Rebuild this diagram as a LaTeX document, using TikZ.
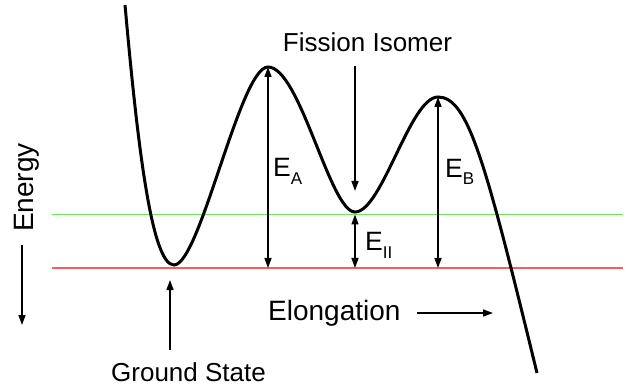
\documentclass[tikz,border=0pt]{standalone}
\usepackage{fontspec}
\setmainfont{Liberation Sans}
\usetikzlibrary{arrows.meta}
\definecolor{lgreen}{RGB}{110,230,90}
\definecolor{lred}{RGB}{245,95,95}
\begin{document}
\begin{tikzpicture}[x=1pt,y=-1pt,
  arr/.style={line width=1.5pt,-{Triangle[length=10pt,width=7pt]}},
  darr/.style={line width=1.5pt,{Triangle[length=10pt,width=7pt]}-{Triangle[length=10pt,width=7pt]}},
  curve/.style={line width=3pt},
  big/.style={font=\fontsize{28}{28}\selectfont, inner sep=0pt},
  mid/.style={font=\fontsize{26}{26}\selectfont, inner sep=0pt},
  lab/.style={font=\fontsize{26.5}{26.5}\selectfont, inner sep=0pt},
  level/.style={line width=1.5pt}]
\useasboundingbox (0,0) rectangle (632,390);
% energy levels
\coordinate (gL) at (52,214.5);
\coordinate (gR) at (623,214.5);
\coordinate (rL) at (52,268);
\coordinate (rR) at (623,268);
\draw[level,lgreen] (gL) -- (gR);
\draw[level,lred] (rL) -- (rR);
% curve
\coordinate (c0) at (125,5);
\coordinate (gmin) at (174,265);
\coordinate (pA) at (268,67);
\coordinate (imin) at (355,212);
\coordinate (pB) at (438,97);
\coordinate (c5) at (537,373);
\draw[curve] (c0) .. controls (138,150) and (152,265) .. (gmin)
  .. controls (200,265) and (240,67) .. (pA)
  .. controls (300,67) and (330,212) .. (imin)
  .. controls (382,212) and (410,97) .. (pB)
  .. controls (468,97) and (485,160) .. (c5);
% barrier arrows
\coordinate (aB) at (268,268);
\coordinate (bB) at (438,268);
\coordinate (iT) at (355,214.5);
\coordinate (iB) at (355,268);
\draw[darr] (pA) -- (aB);
\draw[darr] (pB) -- (bB);
\draw[darr] (iT) -- (iB);
% labels
\node[lab,anchor=base west] (EA) at (273,177) {E\raisebox{-8pt}{\fontsize{17}{17}\selectfont A}};
\node[lab,anchor=base west] (EB) at (445,178) {E\raisebox{-7pt}{\fontsize{17}{17}\selectfont B}};
\node[lab,anchor=base west] (EII) at (365,251) {E\raisebox{-8pt}{\fontsize{17}{17}\selectfont II}};
% fission isomer
\node[mid,anchor=base] (fis) at (367.5,52) {Fission Isomer};
\coordinate (fs) at (355,66);
\coordinate (fe) at (355,191);
\draw[arr] (fs) -- (fe);
% ground state
\node[mid,anchor=base] (gs) at (188.5,381) {Ground State};
\coordinate (gsS) at (170,350);
\coordinate (gsE) at (170,280);
\draw[arr] (gsS) -- (gsE);
% energy axis
\node[big,rotate=90,anchor=base] (en) at (33,187.5) {Energy};
\coordinate (enS) at (22,245);
\coordinate (enE) at (22,325);
\draw[arr] (enS) -- (enE);
% elongation axis
\node[big,anchor=base west] (el) at (268,320) {Elongation};
\coordinate (elS) at (417,313);
\coordinate (elE) at (493,313);
\draw[arr] (elS) -- (elE);
\end{tikzpicture}
\end{document}
